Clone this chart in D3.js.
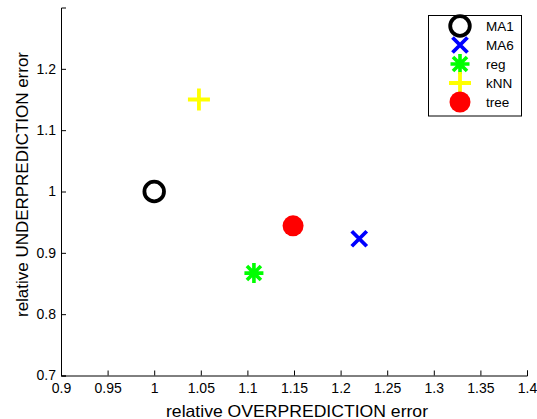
<!DOCTYPE html>
<html>
<head>
<meta charset="utf-8">
<script src="https://cdn.jsdelivr.net/npm/d3@7"></script>
<style>
  html, body { margin: 0; padding: 0; background: #fff; }
  svg { display: block; font-family: "Liberation Sans", Arial, Helvetica, sans-serif; }
</style>
</head>
<body>
<svg id="chart" width="537" height="419"></svg>
<script>
// Methods compared and their relative errors
const methods = ["MA1", "MA6", "reg", "kNN", "tree"];
const overError = [1.0, 1.22, 1.107, 1.048, 1.149];
const underError = [1.0, 0.923, 0.867, 1.15, 0.944];
const colors = ["#000000", "#0000ff", "#00ff00", "#ffff00", "#ff0000"];
const shapes = ["circle", "x", "asterisk", "plus", "dot"];

const xTicks = [0.9, 0.95, 1, 1.05, 1.1, 1.15, 1.2, 1.25, 1.3, 1.35, 1.4];
const yTicks = [0.7, 0.8, 0.9, 1.0, 1.1, 1.2];

const svg = d3.select("#chart");
const plotLeft = 61, plotRight = 527, plotTop = 7.5, plotBottom = 375.5;

const x = d3.scaleLinear().domain([0.9, 1.4]).range([plotLeft, plotRight]);
const y = d3.scaleLinear().domain([0.7, 1.3]).range([plotBottom, plotTop]);

// Axes: ticks point inward, MATLAB style
const xAxis = d3.axisBottom(x).tickValues(xTicks).tickSize(-5).tickPadding(8)
  .tickFormat(d => d3.format("")(+d.toFixed(2)));
const yAxis = d3.axisLeft(y).tickValues(yTicks).tickSize(-5).tickPadding(5)
  .tickFormat(d => d3.format("")(+d.toFixed(2)));

const gx = svg.append("g").attr("transform", `translate(0,${plotBottom})`).call(xAxis);
const gy = svg.append("g").attr("transform", `translate(${plotLeft},0)`).call(yAxis);
[gx, gy].forEach(g => {
  g.select(".domain").attr("stroke", "#000").attr("stroke-width", 1);
  g.selectAll(".tick line").attr("stroke", "#000").attr("stroke-width", 1);
  g.selectAll(".tick text").attr("fill", "#000").attr("font-size", 14)
    .attr("font-family", "Liberation Sans, Arial, sans-serif");
});
gx.selectAll(".tick text").attr("dy", "0.71em");

svg.append("text")
  .attr("x", 297).attr("y", 416.5)
  .attr("text-anchor", "middle").attr("font-size", 16.5)
  .attr("textLength", 262).attr("lengthAdjust", "spacingAndGlyphs")
  .text("relative OVERPREDICTION error");

svg.append("text")
  .attr("transform", `translate(27.5,184.5) rotate(-90)`)
  .attr("text-anchor", "middle").attr("font-size", 16.5)
  .attr("textLength", 265).attr("lengthAdjust", "spacingAndGlyphs")
  .text("relative UNDERPREDICTION error");

// Marker drawing
function drawMarker(g, shape, color) {
  const sw = 3.8;
  if (shape === "circle") {
    g.append("circle").attr("r", 9.8).attr("fill", "none").attr("stroke", color).attr("stroke-width", sw);
  } else if (shape === "dot") {
    g.append("circle").attr("r", 10.5).attr("fill", color);
  } else if (shape === "plus") {
    g.append("path").attr("d", "M-11,0H11M0,-11V11").attr("stroke", color).attr("stroke-width", sw).attr("fill", "none");
  } else if (shape === "x") {
    g.append("path").attr("d", "M-7.5,-7.5L7.5,7.5M-7.5,7.5L7.5,-7.5").attr("stroke", color).attr("stroke-width", sw).attr("fill", "none");
  } else if (shape === "asterisk") {
    g.append("path").attr("d", "M-9.5,0H9.5M0,-10V10M-7,-7L7,7M-7,7L7,-7").attr("stroke", color).attr("stroke-width", sw * 0.95).attr("fill", "none");
  }
}

const points = methods.map((m, i) => ({ m, ox: overError[i], uy: underError[i], c: colors[i], s: shapes[i] }));

svg.append("g").selectAll("g").data(points).join("g")
  .attr("transform", d => `translate(${x(d.ox)},${y(d.uy)})`)
  .each(function (d) { drawMarker(d3.select(this), d.s, d.c); });

// Legend
const legend = svg.append("g");
legend.append("rect")
  .attr("x", 428.5).attr("y", 15.5).attr("width", 93).attr("height", 100.5)
  .attr("fill", "#fff").attr("stroke", "#000").attr("stroke-width", 1);
points.forEach((d, i) => {
  const cy = 26 + i * 19;
  const g = legend.append("g").attr("transform", `translate(460,${cy})`);
  drawMarker(g, d.s, d.c);
  legend.append("text").attr("x", 486).attr("y", cy).attr("dy", "0.36em")
    .attr("font-size", 13.5).text(d.m);
});
</script>
</body>
</html>
